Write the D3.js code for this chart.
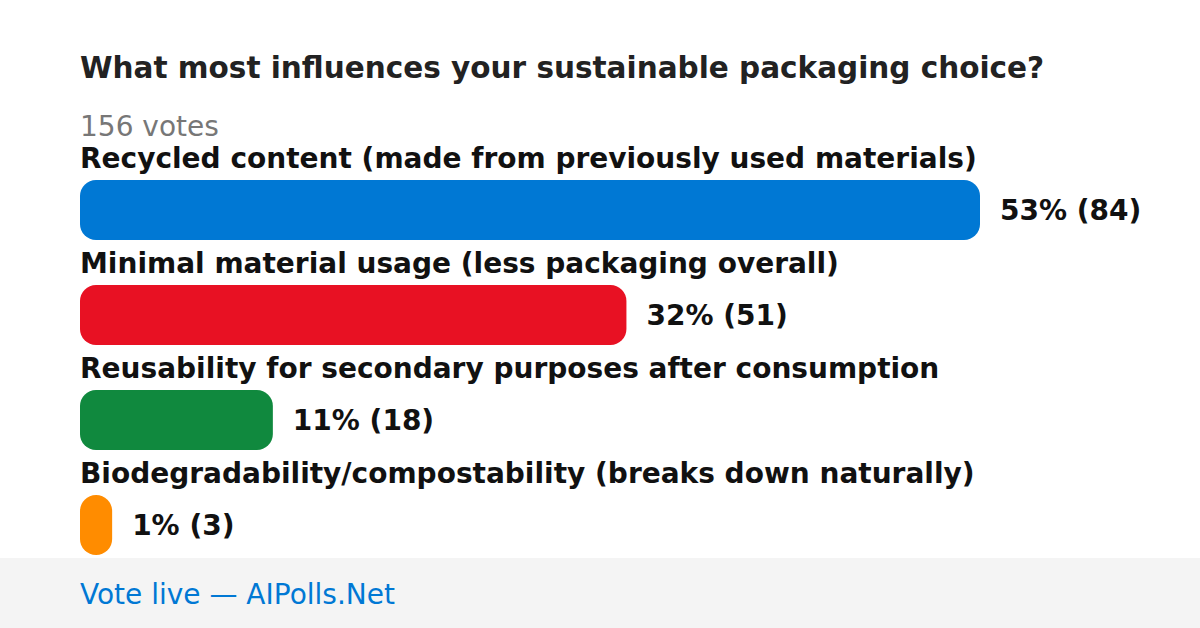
<!DOCTYPE html>
<html>
<head>
<meta charset="utf-8">
<script src="https://cdn.jsdelivr.net/npm/d3@7"></script>
<style>
html,body{margin:0;padding:0;background:#fff;}
svg{display:block;font-family:"DejaVu Sans",sans-serif;}
</style>
</head>
<body>
<script>
const title = "What most influences your sustainable packaging choice?";
const totalLabel = "156 votes";
const footerText = "Vote live — AIPolls.Net";
const categories = [
  "Recycled content (made from previously used materials)",
  "Minimal material usage (less packaging overall)",
  "Reusability for secondary purposes after consumption",
  "Biodegradability/compostability (breaks down naturally)"
];
const votes = [84, 51, 18, 3];
const percents = [53, 32, 11, 1];
const colors = ["#0078d4", "#e81123", "#10893e", "#ff8c00"];

const W = 1200, H = 628;
const svg = d3.select("body").append("svg").attr("width", W).attr("height", H);

svg.append("rect").attr("x",0).attr("y",0).attr("width",W).attr("height",H).attr("fill","#fff");

svg.append("text").attr("x",80).attr("y",78)
  .attr("font-size",29.5).attr("font-weight","bold").attr("fill","#222")
  .text(title);

svg.append("text").attr("x",80).attr("y",136)
  .attr("font-size",28).attr("fill","#777")
  .text(totalLabel);

const x = d3.scaleLinear().domain([0, d3.max(votes)]).range([0, 900]);
const y = d3.scaleBand().domain(d3.range(categories.length)).range([145, 565]).paddingInner(0).paddingOuter(0);

const g = svg.append("g");
const rows = g.selectAll("g.row").data(categories).join("g").attr("class","row")
  .attr("transform", (d,i) => `translate(80,${y(i)})`);

rows.append("text").attr("x",0).attr("y",23)
  .attr("font-size",28).attr("font-weight","bold").attr("fill","#111")
  .text(d => d);

rows.append("rect").attr("x",0).attr("y",35)
  .attr("width",(d,i)=>x(votes[i])).attr("height",60)
  .attr("rx",16).attr("ry",16)
  .attr("fill",(d,i)=>colors[i]);

rows.append("text").attr("x",(d,i)=>x(votes[i])+20).attr("y",65)
  .attr("dominant-baseline","central")
  .attr("font-size",28).attr("font-weight","bold").attr("fill","#111")
  .text((d,i)=>`${percents[i]}% (${votes[i]})`);

svg.append("rect").attr("x",0).attr("y",558).attr("width",W).attr("height",70).attr("fill","#f4f4f4");
svg.append("text").attr("x",80).attr("y",604)
  .attr("font-size",28).attr("fill","#0078d4")
  .text(footerText);
</script>
</body>
</html>
